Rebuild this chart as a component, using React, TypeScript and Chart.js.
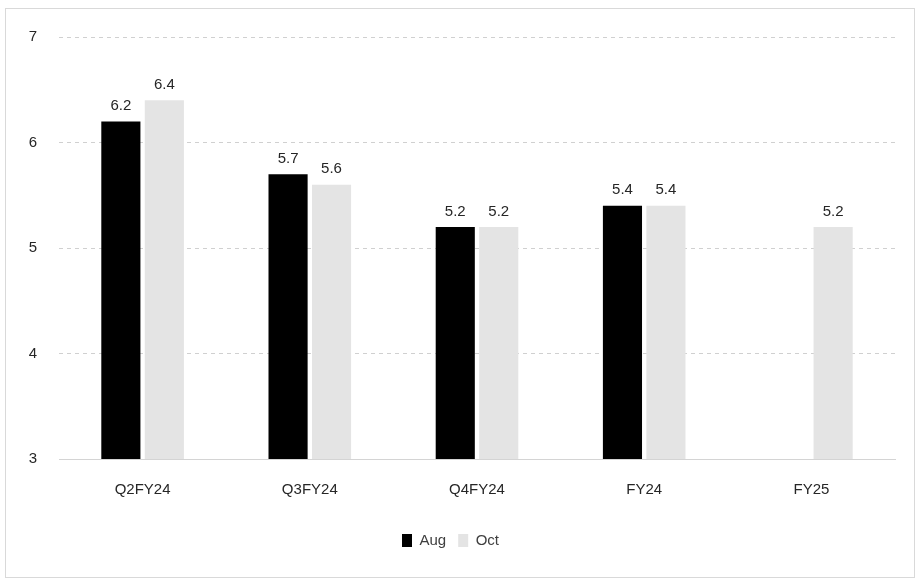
import React, { useEffect, useRef } from "react";
import { Chart, registerables } from "chart.js";

Chart.register(...registerables);

const categories = ["Q2FY24", "Q3FY24", "Q4FY24", "FY24", "FY25"];
const augValues: (number | null)[] = [6.2, 5.7, 5.2, 5.4, null];
const octValues: (number | null)[] = [6.4, 5.6, 5.2, 5.4, 5.2];
const yTicks = [3, 4, 5, 6, 7];

const FONT = "'Liberation Sans', 'DejaVu Sans', sans-serif";

// Writes each bar's value just above its top edge.
const valueLabels = {
  id: "valueLabels",
  afterDatasetsDraw(chart: any) {
    const ctx = chart.ctx;
    ctx.save();
    ctx.font = `15px ${FONT}`;
    ctx.fillStyle = "#262626";
    ctx.textAlign = "center";
    ctx.textBaseline = "bottom";
    chart.data.datasets.forEach((ds: any, i: number) => {
      const meta = chart.getDatasetMeta(i);
      meta.data.forEach((bar: any, j: number) => {
        const v = ds.data[j];
        if (v === null || v === undefined) return;
        ctx.fillText(v.toFixed(1), bar.x, bar.y - 8);
      });
    });
    ctx.restore();
  },
};

export default function App() {
  const canvasRef = useRef<HTMLCanvasElement | null>(null);

  useEffect(() => {
    if (!canvasRef.current) return;
    const chart = new Chart(canvasRef.current, {
      type: "bar",
      data: {
        labels: categories,
        datasets: [
          {
            label: "Aug",
            data: augValues,
            backgroundColor: "#000000",
            categoryPercentage: 0.52,
            barPercentage: 0.9,
          },
          {
            label: "Oct",
            data: octValues,
            backgroundColor: "#e4e4e4",
            categoryPercentage: 0.52,
            barPercentage: 0.9,
          },
        ],
      },
      options: {
        animation: false,
        responsive: false,
        maintainAspectRatio: false,
        layout: { padding: { top: 28, right: 19, bottom: 19, left: 0 } },
        plugins: {
          tooltip: { enabled: false },
          legend: {
            position: "bottom",
            labels: {
              boxWidth: 10,
              boxHeight: 13,
              padding: 12,
              color: "#404040",
              font: { family: FONT, size: 15 },
            },
          },
        },
        scales: {
          x: {
            grid: { display: false },
            border: { display: true, color: "#d4d4d4", width: 1 },
            ticks: {
              color: "#262626",
              font: { family: FONT, size: 15 },
              padding: 14,
            },
            afterFit(scale: any) {
              scale.height = 62;
            },
          },
          y: {
            min: 3,
            max: 7,
            afterBuildTicks(scale: any) {
              scale.ticks = yTicks.map((v) => ({ value: v }));
            },
            grid: {
              color: "#d0d0d0",
              lineWidth: 1,
              drawTicks: false,
            },
            border: { display: false, dash: [4, 4] },
            ticks: {
              color: "#262626",
              font: { family: FONT, size: 15 },
              padding: 22,
            },
            afterFit(scale: any) {
              scale.width = 53;
              scale.paddingTop = 0;
              scale.paddingBottom = 0;
            },
          },
        },
      },
      plugins: [valueLabels],
    });
    return () => chart.destroy();
  }, []);

  return (
    <div
      style={{
        position: "absolute",
        left: 5,
        top: 8,
        width: 910,
        height: 570,
        border: "1px solid #d9d9d9",
        boxSizing: "border-box",
        background: "#ffffff",
      }}
    >
      <canvas ref={canvasRef} width={908} height={568} style={{ display: "block" }} />
    </div>
  );
}
